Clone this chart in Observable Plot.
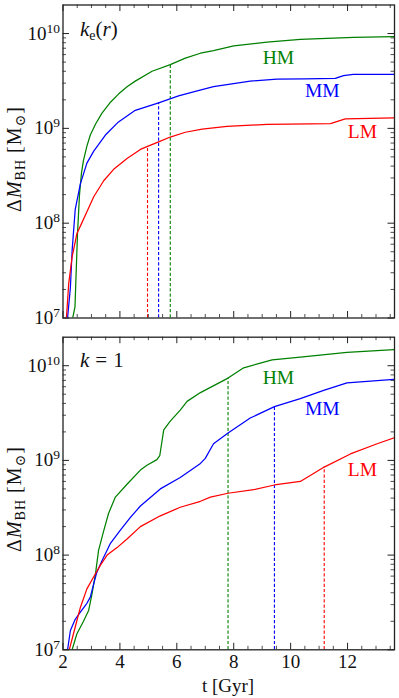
<!DOCTYPE html>
<html><head><meta charset="utf-8">
<script src="https://cdn.jsdelivr.net/npm/d3@7"></script>
<script src="https://cdn.jsdelivr.net/npm/@observablehq/plot@0.6"></script>
<style>
body{margin:0;background:#fff;}
#chart svg{display:block;}
</style></head><body><div id="chart"></div>
<script>
// ---------- data (t in Gyr, ΔM_BH in M_sun) ----------
const seriesNames = ["HM", "MM", "LM"];
const seriesColors = ["#008000", "#0000ff", "#ff0000"];

// panel 1: k_e(r)
const ke_HM_t = [2.34,2.42,2.47,2.51,2.58,2.65,2.72,2.84,2.96,3.15,3.37,3.65,3.95,4.25,4.54,5.13,5.77,6.30,6.83,7.29,8.00,9.17,10.34,12.21,13.65];
const ke_HM_v = [1.0e7,1.3e7,3.5e7,7.8e7,2.0e8,3.4e8,4.6e8,6.5e8,8.5e8,1.12e9,1.45e9,1.86e9,2.3e9,2.75e9,3.15e9,4.0e9,4.7e9,5.5e9,6.2e9,6.6e9,7.4e9,8.1e9,8.7e9,9.1e9,9.3e9];
const ke_MM_t = [2.16,2.26,2.32,2.43,2.61,2.84,3.08,3.49,3.95,4.54,5.36,6.06,6.65,7.29,8.58,9.52,10.50,11.57,11.86,12.20,13.65];
const ke_MM_v = [1.0e7,2.1e7,5.1e7,1.4e8,2.6e8,4.3e8,5.75e8,8.5e8,1.17e9,1.55e9,1.86e9,2.2e9,2.45e9,2.75e9,3.15e9,3.3e9,3.33e9,3.36e9,3.6e9,3.7e9,3.72e9];
const ke_LM_t = [2.12,2.20,2.32,2.49,2.67,2.84,3.08,3.43,3.78,4.25,4.72,4.97,5.36,5.77,6.30,6.89,7.76,9.17,11.40,11.92,13.65];
const ke_LM_v = [1.0e7,2.3e7,4.4e7,7.8e7,1.02e8,1.32e8,1.9e8,2.8e8,3.7e8,4.8e8,6.0e8,6.45e8,7.2e8,8.1e8,9.1e8,9.8e8,1.05e9,1.1e9,1.12e9,1.26e9,1.29e9];
const ke_dash_t = [5.77, 5.36, 4.97];          // HM, MM, LM
const ke_dash_v = [4.7e9, 1.86e9, 6.45e8];
const ke_label_t = [9.57, 11.11, 12.52];
const ke_label_v = [5.6e9, 2.47e9, 9.3e8];

// panel 2: k = 1
const k1_HM_t = [2.32,2.49,2.72,2.90,3.02,3.14,3.25,3.43,3.60,3.84,4.25,4.72,4.95,5.30,5.40,5.54,5.77,6.12,6.36,6.83,7.80,8.35,8.87,9.35,10.34,11.98,13.65];
const k1_HM_v = [1.0e7,1.48e7,2.0e7,2.6e7,3.9e7,6.3e7,1.12e8,1.8e8,2.75e8,4.1e8,5.6e8,7.9e8,8.9e8,1.02e9,1.12e9,2.1e9,2.6e9,3.4e9,4.2e9,5.2e9,7.4e9,9.5e9,1.05e10,1.15e10,1.23e10,1.38e10,1.48e10];
const k1_MM_t = [2.16,2.26,2.43,2.61,2.84,2.96,3.08,3.19,3.37,3.66,4.01,4.37,4.72,5.42,6.12,6.83,7.00,7.29,7.80,8.58,9.43,10.34,11.16,11.98,13.65];
const k1_MM_v = [1.0e7,1.6e7,2.1e7,2.5e7,3.1e7,3.6e7,5.0e7,6.6e7,8.7e7,1.32e8,1.82e8,2.5e8,3.3e8,5.0e8,6.6e8,9.3e8,1.05e9,1.5e9,1.95e9,2.8e9,3.7e9,4.5e9,5.5e9,6.6e9,7.2e9];
const k1_LM_t = [2.22,2.43,2.61,2.84,3.08,3.31,3.55,3.90,4.25,4.72,5.42,6.12,6.83,7.18,7.80,8.70,9.43,10.34,11.18,12.10,13.04,13.65];
const k1_LM_v = [1.0e7,1.74e7,2.8e7,4.4e7,5.9e7,7.8e7,1.0e8,1.2e8,1.48e8,2.0e8,2.6e8,3.2e8,3.7e8,4.1e8,4.5e8,4.9e8,5.5e8,6.0e8,8.5e8,1.17e9,1.5e9,1.74e9];
const k1_dash_t = [7.80, 9.43, 11.18];         // HM, MM, LM
const k1_dash_v = [7.4e9, 3.7e9, 8.5e8];
const k1_label_t = [9.57, 11.11, 12.52];
const k1_label_v = [7.55e9, 3.47e9, 8.05e8];

// axes
const xDomain = [2, 13.65];
const yDomain = [1e7, 2e10];
const xMajorTicks = [2, 4, 6, 8, 10, 12];
const xMinorTicks = [2.5,3,3.5,4.5,5,5.5,6.5,7,7.5,8.5,9,9.5,10.5,11,11.5,12.5,13,13.5];
const yMajorTicks = [1e7, 1e8, 1e9, 1e10];
const yMinorMult = [2,3,4,5,6,7,8,9];
const yMinorTicks = yMajorTicks.flatMap(d => yMinorMult.map(m => m*d)).filter(v => v < yDomain[1]);

// ---------- drawing ----------
const W = 399, ML = 62.5, MR = 5;
const FONT = "'Liberation Serif','DejaVu Serif',serif";

function rows(t, v) { return t.map((tt, i) => ({t: tt, v: v[i]})); }

function panel({lines, dashT, dashV, labT, labV, height, mt, mb, showXLabels}) {
  const PW = W - ML - MR, PH = height - mt - mb;
  const tk = "#222";
  const marks = [
    Plot.tickY(yMajorTicks, {y: d => d, insetRight: PW - 6.5, stroke: tk, strokeWidth: 1}),
    Plot.tickY(yMajorTicks, {y: d => d, insetLeft: PW - 6.5, stroke: tk, strokeWidth: 1}),
    Plot.tickY(yMinorTicks, {y: d => d, insetRight: PW - 3.5, stroke: tk, strokeWidth: 0.8}),
    Plot.tickY(yMinorTicks, {y: d => d, insetLeft: PW - 3.5, stroke: tk, strokeWidth: 0.8}),
    Plot.tickX(xMajorTicks, {x: d => d, insetTop: PH - 6.5, stroke: tk, strokeWidth: 1}),
    Plot.tickX(xMajorTicks, {x: d => d, insetBottom: PH - 6.5, stroke: tk, strokeWidth: 1}),
    Plot.tickX(xMinorTicks, {x: d => d, insetTop: PH - 3.5, stroke: tk, strokeWidth: 0.8}),
    Plot.tickX(xMinorTicks, {x: d => d, insetBottom: PH - 3.5, stroke: tk, strokeWidth: 0.8}),
    Plot.axisY(yMajorTicks, {tickSize: 0, tickPadding: 3, tickFormat: d => String(Math.round(Math.log10(d))), label: null, fontSize: 19, fontFamily: FONT, fill: "#111"})
  ];
  if (showXLabels) {
    marks.push(Plot.axisX(xMajorTicks, {tickSize: 0, tickPadding: 5, tickFormat: d => String(d), label: null, fontSize: 19, fontFamily: FONT, fill: "#111"}));
  }
  marks.push(Plot.ruleX(dashT.map((t, i) => ({t, v: dashV[i], c: seriesColors[i]})),
    {x: "t", y1: yDomain[0], y2: "v", stroke: "c", strokeWidth: 1.1, strokeDasharray: "3.2,2"}));
  lines.forEach((s, i) => {
    marks.push(Plot.line(rows(s[0], s[1]), {x: "t", y: "v", stroke: seriesColors[i], strokeWidth: 1.25, clip: true}));
  });
  marks.push(Plot.text(labT.map((t, i) => ({t, v: labV[i], name: seriesNames[i], c: seriesColors[i]})),
    {x: "t", y: "v", text: "name", fill: "c", fontSize: 19.5, fontFamily: FONT, textAnchor: "middle", lineAnchor: "middle"}));
  marks.push(Plot.frame({stroke: "#222", strokeWidth: 1.3}));

  const svg = Plot.plot({
    width: W, height,
    marginLeft: ML, marginRight: MR, marginTop: mt, marginBottom: mb,
    x: {domain: xDomain, axis: null},
    y: {type: "log", domain: yDomain, axis: null},
    color: {type: "identity"},
    style: {fontFamily: FONT, background: "#fff", overflow: "visible"},
    marks
  });

  d3.select(svg).selectAll('g[aria-label="y-axis tick label"] text').each(function () {
    const e = this.textContent;
    const s = d3.select(this);
    s.text(null);
    s.append("tspan").text("10");
    s.append("tspan").attr("dy", "-7").attr("font-size", "13.5").text(e);
  });
  return svg;
}

function yLabel(svg, cy) {
  const t = d3.select(svg).append("text")
    .attr("transform", `translate(20.5,${cy}) rotate(-90)`)
    .attr("text-anchor", "middle").attr("font-family", FONT).attr("font-size", 20)
    .attr("letter-spacing", 1).attr("fill", "#111");
  t.append("tspan").text("Δ");
  t.append("tspan").attr("font-style", "italic").text("M");
  t.append("tspan").attr("font-size", 14).attr("dy", 4).text("BH");
  t.append("tspan").attr("dy", -4).text(" [M");
  t.append("tspan").attr("font-size", 14).attr("dy", 4).text("⊙");
  t.append("tspan").attr("dy", -4).text("]");
}

const chartEl = document.getElementById("chart");

const topPanel = panel({
  lines: [[ke_HM_t, ke_HM_v], [ke_MM_t, ke_MM_v], [ke_LM_t, ke_LM_v]],
  dashT: ke_dash_t, dashV: ke_dash_v, labT: ke_label_t, labV: ke_label_v,
  height: 327, mt: 4.5, mb: 9.5, showXLabels: false
});
yLabel(topPanel, 159);
{
  const t = d3.select(topPanel).append("text").attr("x", 80).attr("y", 36)
    .attr("text-anchor", "start").attr("font-family", FONT).attr("font-size", 21).attr("fill", "#111");
  t.append("tspan").attr("font-style", "italic").text("k");
  t.append("tspan").attr("font-size", 14).attr("dy", 4).text("e");
  t.append("tspan").attr("dy", -4).text("(");
  t.append("tspan").attr("font-style", "italic").text("r");
  t.append("tspan").text(")");
}
chartEl.appendChild(topPanel);

const botPanel = panel({
  lines: [[k1_HM_t, k1_HM_v], [k1_MM_t, k1_MM_v], [k1_LM_t, k1_LM_v]],
  dashT: k1_dash_t, dashV: k1_dash_v, labT: k1_label_t, labV: k1_label_v,
  height: 371, mt: 9.7, mb: 48.7, showXLabels: true
});
yLabel(botPanel, 172);
{
  const t = d3.select(botPanel).append("text").attr("x", 80).attr("y", 39.5)
    .attr("text-anchor", "start").attr("font-family", FONT).attr("font-size", 21).attr("fill", "#111");
  t.append("tspan").attr("font-style", "italic").text("k");
  t.append("tspan").attr("dx", 6).text("=");
  t.append("tspan").attr("dx", 6).text("1");
}
d3.select(botPanel).append("text").attr("x", 228).attr("y", 365)
  .attr("text-anchor", "middle").attr("font-family", FONT).attr("font-size", 19).attr("fill", "#111")
  .text("t [Gyr]");
chartEl.appendChild(botPanel);
</script>
</body></html>
